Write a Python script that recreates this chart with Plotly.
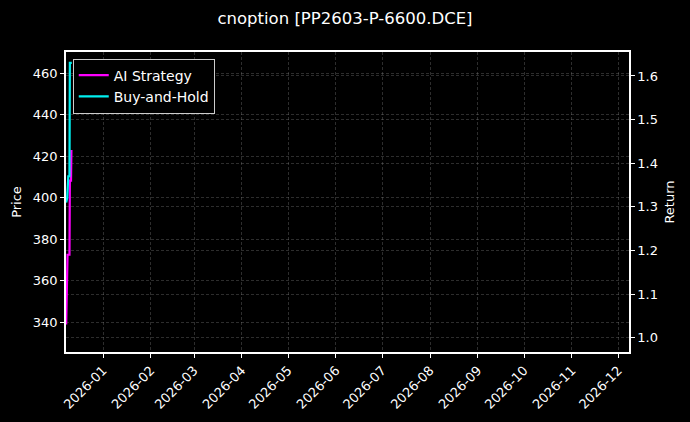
import plotly.graph_objects as go

# data (returns, right axis)
ai_dates = ["2025-12-08 03:00", "2025-12-09 00:00", "2025-12-10 06:00",
            "2025-12-10 12:00", "2025-12-11 06:00", "2025-12-11 12:00"]
ai_return = [1.03, 1.19, 1.19, 1.36, 1.36, 1.43]

bh_dates = ["2025-12-08 03:00", "2025-12-08 18:00", "2025-12-09 12:00",
            "2025-12-10 06:00", "2025-12-10 12:00", "2025-12-11 18:00"]
bh_return = [1.31, 1.32, 1.37, 1.37, 1.63, 1.63]

price_range = [325.7, 470.3]
return_range = [0.967, 1.655]
x_range = ["2025-12-08", "2026-12-08"]

title = "cnoption [PP2603-P-6600.DCE]"

fnt = "DejaVu Sans"
grid_col = "rgba(150,150,150,0.3)"

fig = go.Figure()
# empty trace so the price axis gets drawn
fig.add_trace(go.Scatter(x=[], y=[], yaxis="y", showlegend=False, hoverinfo="skip"))
fig.add_trace(go.Scatter(x=ai_dates, y=ai_return, name="AI Strategy", mode="lines",
                         line=dict(color="#ff00ff", width=2.2), yaxis="y2"))
fig.add_trace(go.Scatter(x=bh_dates, y=bh_return, name="Buy-and-Hold", mode="lines",
                         line=dict(color="#00f0f0", width=2.2), yaxis="y2"))

fig.update_layout(
    width=690, height=422,
    paper_bgcolor="black", plot_bgcolor="black",
    font=dict(family=fnt, color="white", size=13),
    margin=dict(l=66, r=61, t=52, b=70),
    title=dict(text=title, x=0.5, xanchor="center", y=0.957, yanchor="middle",
               font=dict(size=16.5, color="white")),
    xaxis=dict(range=x_range, type="date", dtick="M1", tick0="2026-01-01",
               tickformat="%Y-%m", tickangle=-45, automargin=False,
               showline=True, linecolor="white", linewidth=1.5, mirror=True,
               ticks="outside", ticklen=4, tickcolor="white",
               showgrid=True, gridcolor=grid_col, griddash="3px,2px", gridwidth=1,
               zeroline=False),
    yaxis=dict(title=dict(text="Price", standoff=8, font=dict(size=13)),
               range=price_range, dtick=20, automargin=False,
               showline=True, linecolor="white", linewidth=1.5,
               ticks="outside", ticklen=4, tickcolor="white",
               showgrid=True, gridcolor=grid_col, griddash="3px,2px", zeroline=False),
    yaxis2=dict(title=dict(text="Return", standoff=8, font=dict(size=13)),
                range=return_range, dtick=0.1,
                tickformat=".1f", overlaying="y", side="right", automargin=False,
                showline=True, linecolor="white", linewidth=1.5,
                ticks="outside", ticklen=4, tickcolor="white",
                showgrid=True, gridcolor=grid_col, griddash="3px,2px", zeroline=False),
    legend=dict(x=0.012, y=0.978, xanchor="left", yanchor="top",
                bgcolor="black", bordercolor="#cccccc", borderwidth=1,
                itemwidth=30, font=dict(size=14, color="white")),
    showlegend=True,
)

# page body has a default margin; drop it so the figure sits at the window origin
fig.write_html("out.html", config={"displayModeBar": False},
               post_script="document.body.style.margin='0';"
                           "document.body.style.background='black';")
